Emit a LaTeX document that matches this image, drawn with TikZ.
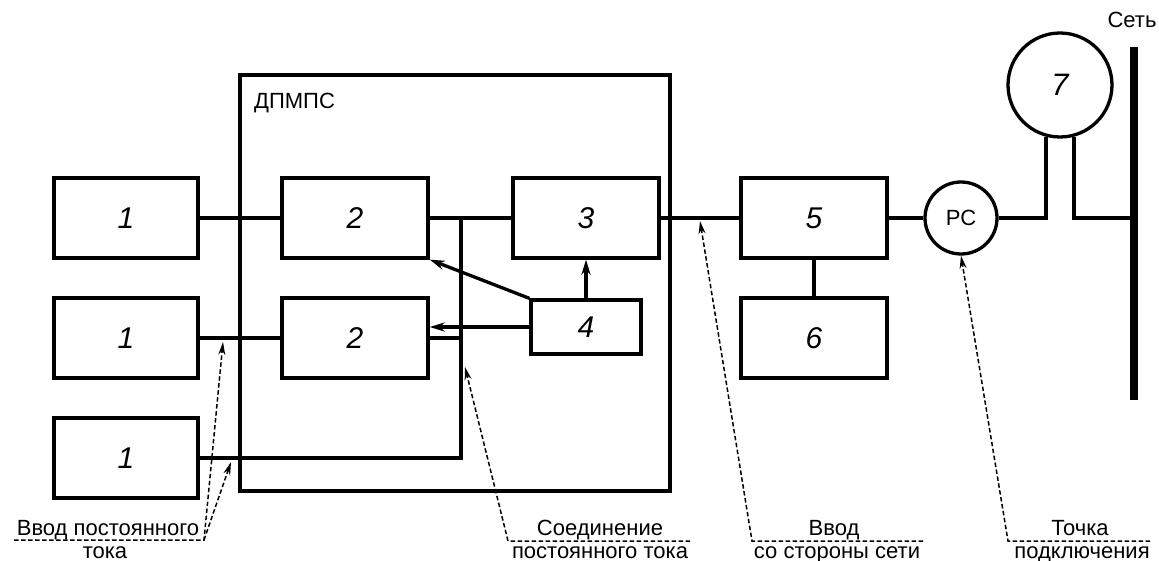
\documentclass[tikz,border=0pt]{standalone}
\usepackage{fontspec}
\setmainfont{Liberation Sans}
\usetikzlibrary{arrows.meta}
\tikzstyle{block} = [rectangle, minimum width=146pt, minimum height=80pt, text centered, draw=black, line width=3.3pt, font=\fontsize{30}{32}\selectfont\itshape]
\tikzstyle{ring} = [circle, inner sep=0pt, draw=black, line width=3.3pt, font=\fontsize{22}{24}\selectfont]
\tikzstyle{link} = [line width=3.3pt]
\tikzstyle{arrow} = [line width=3.3pt, -{Stealth[length=15pt,width=9pt]}]
\tikzstyle{leader} = [line width=1.5pt, dash pattern=on 4.5pt off 2.5pt, -{Stealth[length=13pt,width=7pt]}]
\tikzstyle{note} = [inner sep=0pt, anchor=base, font=\fontsize{22}{24}\selectfont]

\begin{document}
\begin{tikzpicture}[x=1pt, y=-1pt]
\useasboundingbox (0,0) rectangle (1159,561);
\node (dpmps) [draw=black, line width=3.3pt, minimum width=430pt, minimum height=416pt] at (455,283) {};
\node (dpmpsname) [note, anchor=base west] at (254,109) {ДПМПС};
\node (src1) [block, minimum width=144pt] at (126,218) {1};
\node (src2) [block, minimum width=144pt] at (126,338) {1};
\node (src3) [block, minimum width=144pt] at (126,458) {1};
\node (conv1) [block] at (355,218) {2};
\node (conv2) [block] at (355,338) {2};
\node (inv) [block] at (586,218) {3};
\node (ctrl) [block, minimum width=110pt, minimum height=54pt] at (586,327) {4};
\node (box5) [block] at (814,218) {5};
\node (box6) [block] at (814,338) {6};
\node (pc) [ring, minimum size=72pt] at (961,218) {РС};
\node (gen7) [ring, minimum size=104pt, font=\fontsize{31}{33}\selectfont\itshape] at (1060,85) {7};
\node (grid) [fill=black, inner sep=0pt, minimum width=8pt, minimum height=353pt] at (1134,223.5) {};
\node (gridname) [note] at (1132,28) {Сеть};
\coordinate (busbot) at (461,458);
\coordinate (bustop) at (461,218);
\draw [link] (src1) -- (conv1);
\draw [link] (src2) -- (conv2);
\draw [link] (conv1) -- (inv);
\draw [link] (src3) -- (busbot) -- (bustop);
\draw [link] (conv2.east) -- (conv2.east -| busbot);
\draw [link] (inv) -- (box5);
\draw [link] (box5) -- (box6);
\draw [link] (box5) -- (pc);
\draw [link] (pc.east) -| (gen7.255);
\draw [link] (gen7.285) |- (grid.west |- pc.east);
\draw [arrow] (ctrl) -- (inv);
\draw [arrow] (ctrl.north west) -- (conv1.south east);
\draw [arrow] (ctrl.west) -- (conv2.east |- ctrl.west);
\coordinate (u1l) at (14,540);
\coordinate (u1r) at (204,540);
\coordinate (t1a) at (223,342);
\coordinate (t1b) at (231,462);
\coordinate (u2l) at (508,541);
\coordinate (u2r) at (690,541);
\coordinate (t2) at (465,367);
\coordinate (u3l) at (752,541);
\coordinate (u3r) at (923,541);
\coordinate (t3) at (700,221);
\coordinate (u4l) at (1008,541);
\coordinate (u4r) at (1150,541);
\draw [leader] (u1l) -- (u1r) -- (t1a);
\draw [leader] (u1r) -- (t1b);
\draw [leader] (u2r) -- (u2l) -- (t2);
\draw [leader] (u3r) -- (u3l) -- (t3);
\draw [leader] (u4r) -- (u4l) -- (pc.south);
\node (dcin1) [note] at (108,535) {Ввод постоянного};
\node (dcin2) [note] at (105,558) {тока};
\node (dclink1) [note] at (600,535) {Соединение};
\node (dclink2) [note] at (600,558) {постоянного тока};
\node (acin1) [note] at (834,535) {Ввод};
\node (acin2) [note] at (837,558) {со стороны сети};
\node (poc1) [note] at (1080,535) {Точка};
\node (poc2) [note] at (1082,558) {подключения};
\end{tikzpicture}
\end{document}
